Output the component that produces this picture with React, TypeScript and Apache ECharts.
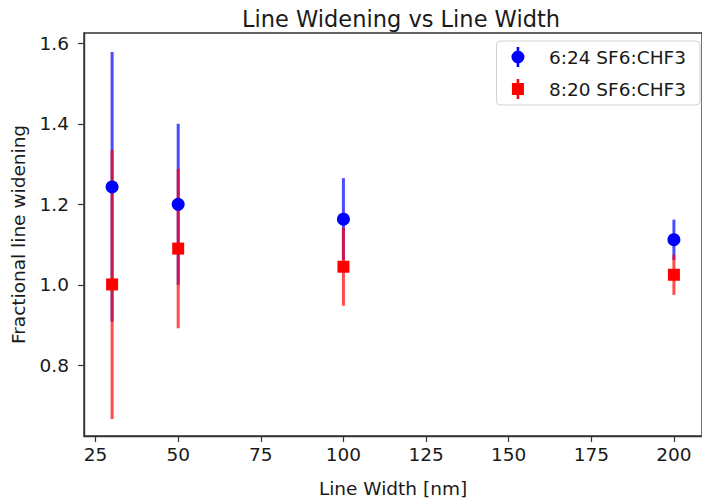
import React, { useEffect, useRef } from 'react';
import * as echarts from 'echarts';

const lineWidths = [30, 50, 100, 200];
const ratio624Mean = [1.243, 1.2, 1.163, 1.112];
const ratio624Err = [0.335, 0.2, 0.102, 0.05];
const ratio820Mean = [1.001, 1.09, 1.045, 1.025];
const ratio820Err = [0.334, 0.198, 0.097, 0.05];
const xTicks = [25, 50, 75, 100, 125, 150, 175, 200];
const yTicks = [0.8, 1.0, 1.2, 1.4, 1.6];
const seriesNames = ['6:24 SF6:CHF3', '8:20 SF6:CHF3'];

const FONT = 'DejaVu Sans';
const TXT = '#1a1a1a';
const SPINE = '#333';

function errData(mean: number[], err: number[]) {
  return lineWidths.map((x, i) => [x, mean[i] - err[i], mean[i] + err[i]]);
}

function errSeries(name: string, mean: number[], err: number[], color: string) {
  return {
    type: 'custom',
    name: name + ' err',
    z: 2,
    silent: true,
    encode: { x: 0, y: [1, 2] },
    data: errData(mean, err),
    renderItem: (params: any, api: any) => {
      const top = api.coord([api.value(0), api.value(2)]);
      const bot = api.coord([api.value(0), api.value(1)]);
      return {
        type: 'line',
        shape: { x1: top[0], y1: top[1], x2: bot[0], y2: bot[1] },
        style: { stroke: color, lineWidth: 3 },
      };
    },
  };
}

const circleIcon = 'path://M5.7,0H8.3V20H5.7Z M13.5,10A6.5,6.5 0 1 1 0.5,10A6.5,6.5 0 1 1 13.5,10Z';
const squareIcon = 'path://M5.7,0H8.3V20H5.7Z M1,4H13V16H1Z';

export default function App() {
  const ref = useRef<HTMLDivElement>(null);
  useEffect(() => {
    if (!ref.current) return;
    const chart = echarts.init(ref.current, undefined, { renderer: 'svg' });
    const axisLine = { show: true, lineStyle: { color: SPINE, width: 1.4 } };
    chart.setOption({
      animation: false,
      backgroundColor: '#fff',
      title: {
        text: 'Line Widening vs Line Width',
        left: 396,
        top: 2,
        textAlign: 'center',
        textStyle: { fontFamily: FONT, fontSize: 22.5, fontWeight: 'normal', color: TXT },
      },
      legend: {
        orient: 'vertical',
        right: 2,
        top: 41,
        padding: [6, 14, 6, 15],
        itemGap: 12,
        itemWidth: 14,
        itemHeight: 20,
        backgroundColor: '#fff',
        borderColor: '#d0d0d0',
        borderWidth: 1,
        borderRadius: 4,
        textStyle: { fontFamily: FONT, fontSize: 18.5, color: TXT, padding: [0, 0, 0, 19] },
        data: [
          { name: seriesNames[0], icon: circleIcon, itemStyle: { color: '#0000ff' } },
          { name: seriesNames[1], icon: squareIcon, itemStyle: { color: '#ff0000' } },
        ],
      },
      grid: {
        left: 84,
        top: 33,
        width: 625,
        height: 405,
        containLabel: false,
        show: true,
        borderColor: SPINE,
        borderWidth: 1.4,
        backgroundColor: 'transparent',
      },
      xAxis: {
        type: 'value',
        min: 21.5,
        max: 208.5,
        name: 'Line Width [nm]',
        nameLocation: 'middle',
        nameGap: 43,
        nameTextStyle: { fontFamily: FONT, fontSize: 18.5, color: TXT },
        axisLine,
        splitLine: { show: false },
        axisTick: { show: true, length: 6, lineStyle: { color: SPINE, width: 1.2 }, customValues: xTicks },
        axisLabel: { fontFamily: FONT, fontSize: 18.5, color: TXT, margin: 9, customValues: xTicks },
      },
      yAxis: {
        type: 'value',
        min: 0.6245,
        max: 1.6255,
        name: 'Fractional line widening',
        nameLocation: 'middle',
        nameRotate: 90,
        nameGap: 56,
        nameTextStyle: { fontFamily: FONT, fontSize: 18.5, color: TXT },
        axisLine,
        splitLine: { show: false },
        axisTick: { show: true, length: 6, lineStyle: { color: SPINE, width: 1.2 }, customValues: yTicks },
        axisLabel: {
          fontFamily: FONT,
          fontSize: 18.5,
          color: TXT,
          margin: 15,
          customValues: yTicks,
          formatter: (v: number) => v.toFixed(1),
        },
      },
      series: [
        errSeries(seriesNames[0], ratio624Mean, ratio624Err, 'rgba(0,0,255,0.7)'),
        errSeries(seriesNames[1], ratio820Mean, ratio820Err, 'rgba(255,0,0,0.7)'),
        {
          type: 'scatter',
          name: seriesNames[0],
          z: 3,
          symbol: 'circle',
          symbolSize: 13,
          itemStyle: { color: '#0000ff', opacity: 1 },
          data: lineWidths.map((x, i) => [x, ratio624Mean[i]]),
        },
        {
          type: 'scatter',
          name: seriesNames[1],
          z: 4,
          symbol: 'rect',
          symbolSize: 12,
          itemStyle: { color: '#ff0000', opacity: 1 },
          data: lineWidths.map((x, i) => [x, ratio820Mean[i]]),
        },
      ],
    });
    return () => chart.dispose();
  }, []);
  return (
    <div
      ref={ref}
      style={{ position: 'fixed', left: 0, top: 0, width: 702, height: 503, background: '#fff' }}
    />
  );
}
